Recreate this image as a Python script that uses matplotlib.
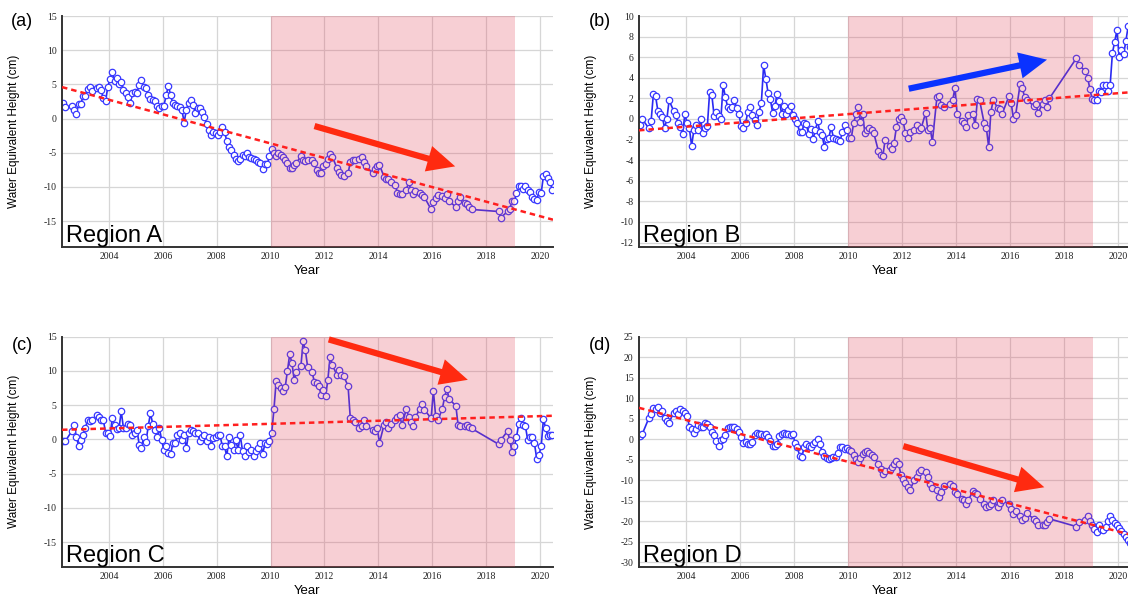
import numpy as np
import matplotlib
matplotlib.use('Agg')
import matplotlib.pyplot as plt

plt.rcParams['axes.unicode_minus'] = False

# Sampled months: GRACE (2002-2017) and GRACE-FO (2018-2020), with missing months left out
months_by_year = [
    (2002, [4, 5, 8, 9, 10, 11, 12]),
    (2003, [1, 2, 3, 4, 5, 7, 8, 9, 10, 11, 12]),
    (2004, [1, 2, 3, 4, 5, 6, 7, 8, 9, 10, 11, 12]),
    (2005, [1, 2, 3, 4, 5, 6, 7, 8, 9, 10, 11, 12]),
    (2006, [1, 2, 3, 4, 5, 6, 7, 8, 9, 10, 11, 12]),
    (2007, [1, 2, 3, 4, 5, 6, 7, 8, 9, 10, 11, 12]),
    (2008, [1, 2, 3, 4, 5, 6, 7, 8, 9, 10, 11, 12]),
    (2009, [1, 2, 3, 4, 5, 6, 7, 8, 9, 10, 11, 12]),
    (2010, [1, 2, 3, 4, 5, 6, 7, 8, 9, 10, 11, 12]),
    (2011, [2, 3, 4, 5, 7, 8, 9, 10, 11, 12]),
    (2012, [1, 2, 3, 4, 6, 7, 8, 9, 11, 12]),
    (2013, [1, 2, 4, 5, 6, 7, 10, 11, 12]),
    (2014, [1, 3, 4, 5, 6, 8, 9, 10, 11]),
    (2015, [1, 2, 3, 4, 5, 7, 8, 9, 12]),
    (2016, [1, 2, 3, 5, 6, 7, 8, 11, 12]),
    (2017, [1, 3, 4, 5, 6]),
    (2018, [6, 7, 10, 11, 12]),
    (2019, [1, 2, 3, 4, 5, 6, 7, 8, 9, 10, 11, 12]),
    (2020, [1, 2, 3, 4, 5, 6]),
]

# Water equivalent height (cm), one row per year
region_a = [
    2.3, 1.7, 1.8, 1.3, 0.7, 2.1, 2.1,
    3.3, 3.3, 4.3, 4.6, 4.1, 4.4, 4.6, 4.2, 3.0, 2.5, 4.6,
    5.8, 6.8, 5.5, 6.0, 5.1, 5.4, 4.2, 3.7, 3.2, 2.2, 3.8, 3.9,
    3.8, 4.9, 5.6, 4.6, 4.4, 3.4, 2.8, 2.7, 2.5, 1.8, 1.5, 1.9,
    1.9, 3.4, 4.8, 3.4, 2.2, 2.0, 1.9, 1.7, 1.3, -0.6, 1.3, 2.2,
    2.7, 2.0, 0.8, 1.6, 1.6, 1.0, 0.2, -0.8, -1.7, -2.4, -1.9, -2.1,
    -2.4, -1.9, -1.3, -1.9, -3.3, -4.1, -4.6, -5.4, -5.9, -6.2, -5.9, -5.3,
    -5.5, -5.1, -5.6, -5.8, -5.9, -6.1, -6.3, -6.5, -7.4, -6.7, -6.7, -5.5,
    -4.5, -5.0, -5.5, -5.0, -5.3, -5.7, -6.0, -6.5, -7.2, -7.3, -6.8, -6.5,
    -5.5, -6.0, -6.2, -6.1, -6.0, -6.5, -7.6, -8.0, -8.0, -6.9,
    -6.6, -5.9, -5.2, -5.6, -7.2, -7.8, -8.3, -8.4, -8.0, -6.4,
    -6.1, -6.0, -5.9, -5.6, -6.3, -7.0, -8.0, -7.4, -7.0,
    -6.8, -8.5, -8.9, -8.8, -9.3, -9.7, -10.9, -11.0, -11.0,
    -10.4, -9.3, -10.5, -11.1, -10.6, -10.9, -11.2, -11.5, -13.3,
    -12.2, -11.6, -11.2, -11.4, -11.6, -11.1, -12.0, -13.0, -12.1,
    -11.5, -12.3, -12.5, -13.0, -13.3,
    -13.6, -14.5, -13.6, -13.2, -12.1,
    -12.1, -10.9, -9.9, -9.9, -10.3, -9.9, -10.4, -10.8, -11.5, -11.8, -11.9, -10.8,
    -10.9, -8.4, -8.1, -8.7, -9.3, -10.5,
]

region_b = [
    -0.6, 0.0, -0.9, -0.2, 2.4, 2.2, 0.8,
    0.5, 0.2, -0.9, 0.0, 1.8, 0.8, 0.4, -0.4, -0.8, -1.5, 0.5,
    -0.4, -0.9, -2.6, -1.1, -0.6, -1.1, 0.0, -1.4, -0.9, -0.7, 2.6, 2.3,
    0.3, 0.7, 0.3, 0.0, 3.3, 2.1, 1.2, 1.0, 1.2, 1.8, 1.1, 0.5,
    -0.7, -0.9, -0.4, 0.7, 1.2, 0.4, -0.1, -0.6, 0.7, 1.6, 5.2, 3.9,
    2.5, 1.9, 0.6, 1.3, 2.4, 1.7, 0.5, 1.3, 0.5, 0.9, 1.3, 0.4,
    0.0, -0.4, -1.3, -1.3, -0.4, -0.5, -1.5, -1.0, -1.9, -1.1, -0.2, -1.3,
    -1.6, -2.7, -1.9, -1.8, -0.8, -1.8, -1.9, -2.0, -2.1, -1.3, -0.6, -1.1,
    -1.8, -1.8, -0.4, 0.5, 1.2, -0.3, 0.5, -1.4, -1.1, -0.9, -1.1, -1.4,
    -3.1, -3.5, -3.6, -2.0, -2.6, -2.9, -2.3, -0.8, 0.0, 0.2,
    -0.2, -1.4, -1.8, -1.3, -1.1, -0.6, -1.1, -0.9, 0.6, -1.1,
    -0.9, -2.2, 2.1, 2.2, 1.4, 1.2, 1.5, 1.8, 3.0,
    0.5, -0.2, -0.4, -0.8, 0.4, 0.5, -0.6, 1.9, 1.8,
    -0.4, -0.9, -2.7, 0.7, 1.8, 1.1, 1.0, 0.5, 2.2,
    1.6, 0.0, 0.4, 3.4, 3.0, 2.1, 1.8, 1.3, 1.5,
    0.6, 1.5, 1.8, 1.2, 2.0,
    5.9, 5.2, 4.7, 4.0, 2.9,
    1.9, 1.8, 1.8, 2.7, 2.6, 3.3, 3.3, 2.7, 3.3, 6.4, 7.5, 8.6,
    6.0, 6.7, 6.3, 7.6, 9.0, 7.0,
]

region_c = [
    -0.3, -0.3, 1.2, 2.1, 0.4, -0.9, -0.1,
    0.7, 1.6, 2.8, 2.7, 2.8, 3.6, 3.2, 2.8, 2.9, 1.0, 1.0,
    0.5, 3.1, 2.1, 1.5, 1.6, 4.1, 1.6, 1.6, 2.3, 2.1, 0.7, 0.9,
    1.4, -0.8, -1.3, 0.4, -0.4, 1.9, 3.8, 2.3, 1.4, 0.3, 1.6, -0.1,
    -1.6, -1.0, -2.0, -2.2, -0.5, -0.6, 0.6, 1.0, -0.1, 0.6, -1.3, 1.0,
    1.4, 1.2, 0.9, 0.9, -0.3, 0.3, 0.6, -0.2, 0.4, -1.0, 0.2, 0.4,
    0.6, 0.6, -1.0, -1.0, -2.5, 0.4, -0.8, -1.5, -0.1, -1.5, 0.6, -1.7,
    -2.5, -1.0, -1.9, -1.6, -2.5, -1.7, -1.3, -0.6, -2.1, -0.6, -0.7, -0.3,
    0.9, 4.4, 8.6, 8.0, 7.5, 7.0, 7.6, 10.0, 12.4, 11.2, 8.7, 9.8,
    10.7, 14.3, 13.0, 10.6, 9.8, 8.4, 8.2, 7.8, 6.5, 7.2,
    6.3, 8.7, 12.1, 10.9, 9.4, 10.2, 9.4, 9.3, 7.8, 3.1,
    2.8, 2.6, 1.6, 2.0, 2.9, 1.9, 1.4, 1.2, 1.6,
    -0.5, 2.1, 2.6, 1.6, 2.2, 2.8, 3.2, 3.5, 2.1,
    4.5, 3.2, 2.6, 1.9, 3.2, 4.5, 5.1, 4.3, 3.1,
    7.1, 3.4, 2.8, 4.5, 6.2, 7.4, 5.9, 4.9, 2.1,
    2.0, 1.9, 2.1, 1.8, 1.6,
    -0.7, -0.1, 1.2, -0.1, -1.8,
    -1.0, 0.3, 2.3, 3.1, 2.1, 1.9, -0.1, 0.4, 0.4, -0.6, -2.8, -2.3,
    -1.0, 3.0, 1.6, 0.5, 0.7, 0.7,
]

region_d = [
    0.7, 1.2, 5.2, 6.3, 7.6, 7.3, 7.9,
    6.5, 6.9, 5.2, 4.6, 4.1, 6.5, 6.9, 6.3, 7.3, 6.9, 6.4,
    5.7, 3.1, 2.5, 1.5, 2.5, 3.4, 3.1, 3.0, 4.1, 3.7, 3.0, 1.8,
    1.0, -0.3, -1.5, -0.1, 0.1, 1.0, 2.7, 3.0, 3.1, 3.1, 2.5, 1.8,
    0.6, -0.9, -0.7, -1.1, -1.1, -0.7, 1.0, 1.5, 1.2, 1.4, 1.0, 1.2,
    0.6, -0.4, -1.5, -1.5, -1.2, 0.7, 1.4, 1.5, 1.2, 1.4, 1.0, 1.2,
    -0.9, -1.9, -4.0, -4.3, -1.9, -1.1, -1.5, -1.9, -1.1, -0.7, 0.1, -1.1,
    -3.2, -4.0, -4.6, -4.8, -4.6, -4.2, -4.4, -3.4, -1.9, -1.8, -2.3, -2.1,
    -2.7, -2.9, -3.7, -4.8, -5.6, -4.6, -3.5, -3.2, -2.9, -3.4, -3.7, -4.2,
    -6.0, -7.2, -8.4, -7.8, -7.4, -6.8, -6.0, -5.3, -6.1, -8.6,
    -9.6, -10.7, -11.7, -12.3, -10.0, -9.1, -8.0, -7.6, -8.0, -9.2,
    -10.8, -12.0, -12.3, -14.1, -12.9, -11.3, -10.8, -11.3, -12.9,
    -13.3, -14.5, -14.9, -15.9, -14.8, -12.7, -13.1, -13.3, -14.5,
    -15.9, -16.4, -16.2, -15.8, -14.9, -16.4, -15.6, -14.9, -15.8,
    -17.0, -18.2, -17.5, -18.8, -19.6, -19.2, -18.1, -19.4, -20.0,
    -20.8, -21.0, -20.8, -20.2, -19.4,
    -21.3, -20.2, -19.8, -18.8, -20.0,
    -20.8, -21.9, -22.7, -21.0, -21.9, -22.1, -21.5, -20.0, -18.8, -19.7, -20.5, -21.0,
    -21.6, -22.3, -23.2, -23.9, -24.7, -25.3,
]

# Linear trend (cm) at the start and end of the plotted period
trend_years = [2002.26, 2020.48]
trend_a = [4.6, -14.8]
trend_b = [-1.1, 2.6]
trend_c = [1.4, 3.45]
trend_d = [7.7, -23.3]

period = [2010.0, 2019.07]
year_ticks = [2004, 2006, 2008, 2010, 2012, 2014, 2016, 2018, 2020]

t = np.array([yr + (m - 0.5) / 12 for yr, ms in months_by_year for m in ms])

W, H = 1128, 599
fig = plt.figure(figsize=(W / 100, H / 100), dpi=100)
fig.patch.set_facecolor('white')

RED = '#ff2a10'
BLUE = '#0a32ff'

panels = [
    # letter, name, values, trend, ylim, yticks, (l, t, r, b) px, arrow tail, arrow tip, arrow colour
    ('(a)', 'Region A', region_a, trend_a, (-18.75, 15), range(-15, 16, 5),
     (62, 16, 553, 246.7), (2011.63, -1.1), (2016.85, -7.0), RED),
    ('(b)', 'Region B', region_b, trend_b, (-12.4, 10), range(-12, 11, 2),
     (639, 16, 1131, 246.7), (2012.25, 2.94), (2017.37, 5.76), BLUE),
    ('(c)', 'Region C', region_c, trend_c, (-18.6, 15), range(-15, 16, 5),
     (62, 336.7, 553, 566.7), (2012.16, 14.6), (2017.32, 8.7), RED),
    ('(d)', 'Region D', region_d, trend_d, (-31.1, 25), range(-30, 26, 5),
     (639, 337, 1131, 566.7), (2012.05, -1.65), (2017.27, -11.7), RED),
]

for letter, name, vals, trend, ylim, yticks, box, tail, tip, acol in panels:
    l, tp, r, b = box
    ax = fig.add_axes([l / W, 1 - b / H, (r - l) / W, (b - tp) / H])
    ax.set_xlim(trend_years)
    ax.set_ylim(ylim)
    ax.set_xticks(year_ticks)
    ax.set_yticks(list(yticks))
    ax.grid(True, color='#d6d6d6', lw=0.9)
    ax.set_axisbelow(True)

    ax.plot(t, vals, '-o', color='#2a2af2', lw=1.2, ms=4.6, mfc='white',
            mec='#3838ff', mew=0.9, zorder=2)
    ax.axvspan(period[0], period[1], color=(0.89, 0.26, 0.34), alpha=0.25,
               lw=0, zorder=3)
    ax.plot(trend_years, trend, color='#ff1f1f', lw=1.8, ls=(0, (2.2, 1.6)),
            zorder=4)
    ax.annotate('', xy=tip, xytext=tail, zorder=5,
                arrowprops=dict(arrowstyle='simple,head_length=2.0,head_width=1.9,tail_width=0.45',
                                mutation_scale=10, color=acol, lw=0,
                                shrinkA=0, shrinkB=0))
    ax.text(0.008, 0.02, name, transform=ax.transAxes, fontsize=17,
            family='Liberation Sans', color='black', zorder=6)

    for side in ('top', 'right'):
        ax.spines[side].set_visible(False)
    for side in ('left', 'bottom'):
        ax.spines[side].set_color('#333333')
        ax.spines[side].set_linewidth(1.4)
    ax.tick_params(length=0, pad=4, labelsize=7, labelcolor='#222222')
    for lab in ax.get_xticklabels() + ax.get_yticklabels():
        lab.set_family('Liberation Serif')

    ax.set_ylabel('Water Equivalent Height (cm)', fontsize=8.5,
                  family='Liberation Sans')
    ax.yaxis.set_label_coords(-0.086, 0.5)
    ax.set_xlabel('Year', fontsize=9.5, family='Liberation Sans')
    ax.xaxis.set_label_coords(0.5, -0.08)

    lx = 22 if l < 300 else 600
    ly = 22 if tp < 100 else 345
    fig.text(lx / W, 1 - ly / H, letter, ha='center', va='center',
             fontsize=13, family='Liberation Sans')

fig.savefig('out.png', dpi=100)
